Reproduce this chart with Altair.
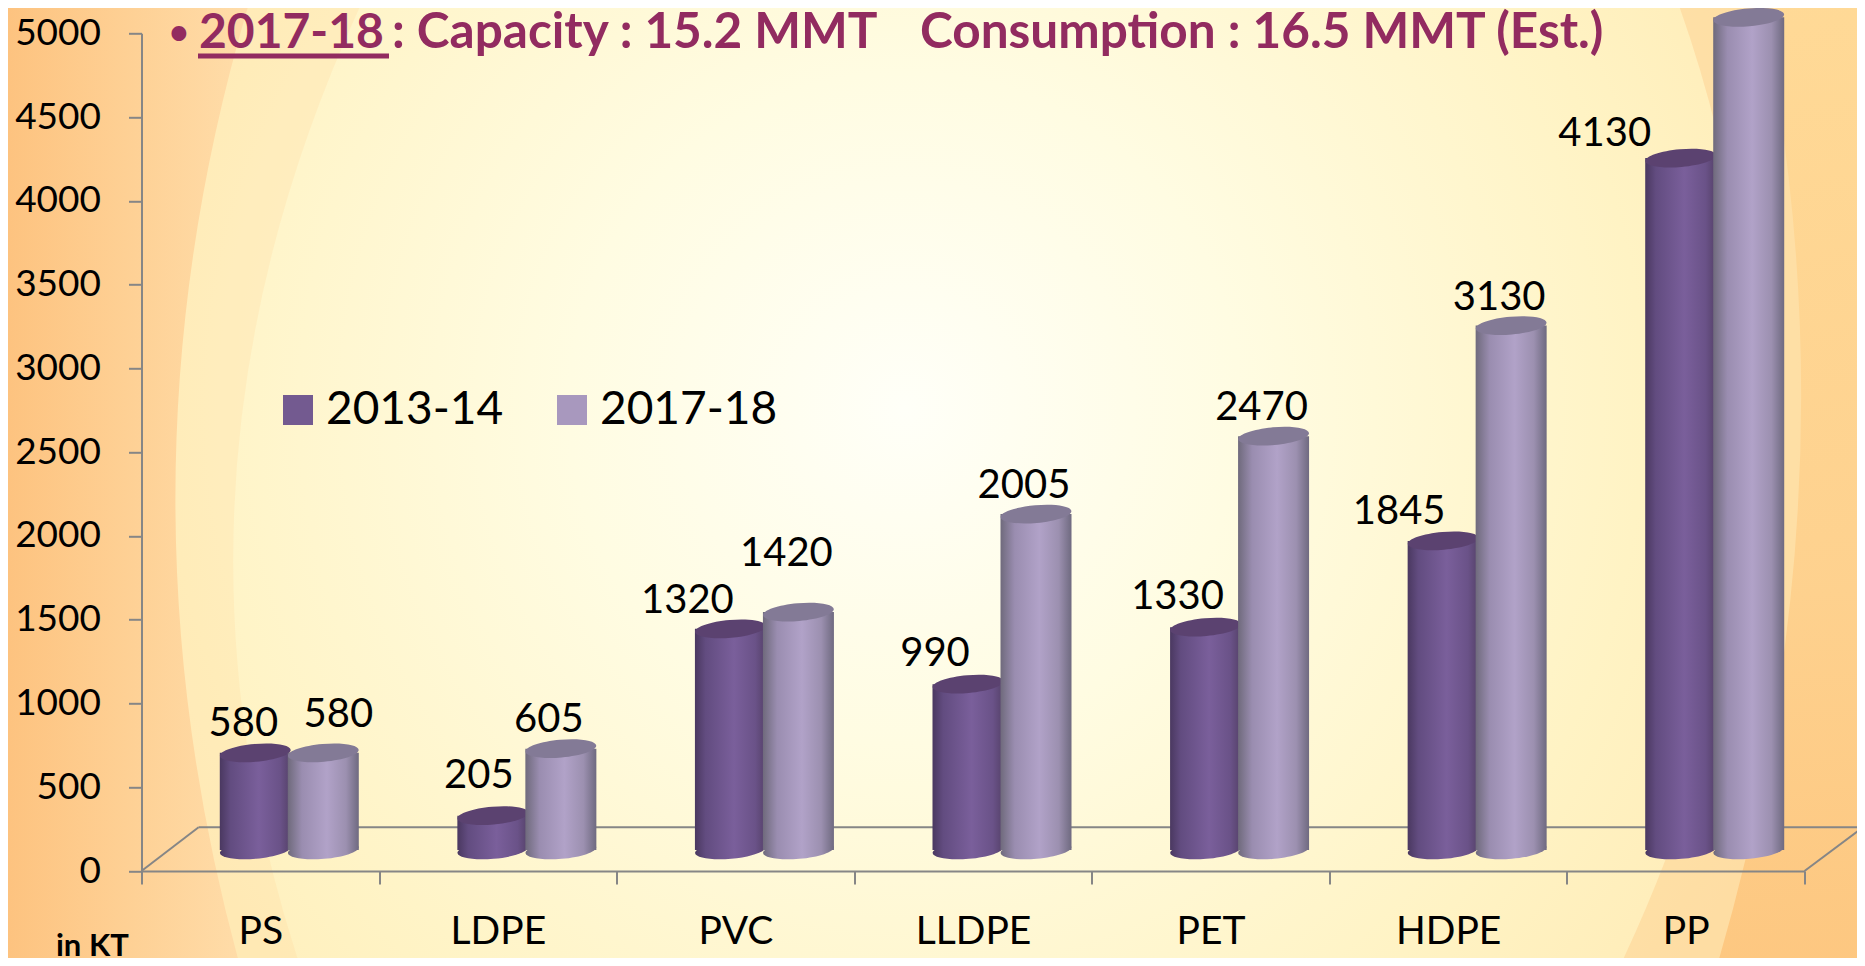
import altair as alt
import pandas as pd

categories = ["PS", "LDPE", "PVC", "LLDPE", "PET", "HDPE", "PP"]
series_a = "2013-14"
series_b = "2017-18"
values_a = [580, 205, 1320, 990, 1330, 1845, 4130]
values_b = [580, 605, 1420, 2005, 2470, 3130, 4970]

# label nudges, px from each cylinder's centre
dx_a = [-12, -14, -43, -33, -28, -44, -76]
dy_a = [-29, -40, -28, -30, -30, -29, -24]
dx_b = [15, -12, -12, -12, -12, -12, 0]
dy_b = [-38, -29, -58, -28, -28, -28, -30]

FONT = "Lato"
OX, OY = 141.5, 33.3
W, H = 1663, 837.7
BASE = -21
OFF_A, OFF_B = -5, 63
CYL = 71
AXIS = "#868686"
PURPLE = "#922B60"

df = pd.DataFrame(
    [{"cat": c, "series": series_a, "value": v} for c, v in zip(categories, values_a)]
    + [{"cat": c, "series": series_b, "value": v} for c, v in zip(categories, values_b)]
)
one = pd.DataFrame({"k": [0]})


def grad(stops, x2=1, y2=0):
    return {"gradient": "linear", "x1": 0, "x2": x2, "y1": 0, "y2": y2,
            "stops": [{"offset": o, "color": c} for o, c in stops]}


GRAD_A = grad([(0, "#4A3860"), (0.15, "#624C80"), (0.55, "#7A5F9B"), (0.85, "#6A5288"), (1, "#554169")])
GRAD_B = grad([(0, "#6F6A7C"), (0.2, "#9A8DB0"), (0.55, "#B1A2C8"), (0.82, "#9C90B0"), (1, "#6F6A80")])
CAP_A, CAP_B = "#5B4270", "#837A96"
ELLIPSE = "M-1,0A1,0.25,0,1,1,1,0A1,0.25,0,1,1,-1,0Z"

x_enc = alt.X("cat:N", sort=categories, title=None,
              scale=alt.Scale(domain=categories, paddingInner=0, paddingOuter=0),
              axis=alt.Axis(labelAngle=0, labelFontSize=39, labelFont=FONT, labelColor="#000000",
                            labelPadding=28, tickBand="extent", tickSize=13, tickWidth=2, tickColor=AXIS,
                            domainColor=AXIS, domainWidth=2, grid=False, zindex=1))
y_enc = alt.Y("value:Q", title=None,
              scale=alt.Scale(domain=[0, 5000], nice=False),
              axis=alt.Axis(values=list(range(0, 5001, 500)), format="d", labelFontSize=37, labelFont=FONT,
                            labelColor="#000000", labelPadding=28, tickSize=13, tickWidth=2, tickColor=AXIS,
                            domainColor=AXIS, domainWidth=2, grid=False, zindex=1))

# ---- backdrop (full-image pixel coordinates mapped through the plot origin)
bg = alt.Chart(one).mark_rect(color={
    "gradient": "radial", "x1": 0.485, "y1": 0.46, "x2": 0.485, "y2": 0.46, "r1": 0, "r2": 0.72,
    "stops": [{"offset": 0, "color": "#FFFFF8"}, {"offset": 0.25, "color": "#FFFCE2"},
              {"offset": 0.55, "color": "#FFF3C4"}, {"offset": 0.8, "color": "#FFE8B0"},
              {"offset": 1, "color": "#FED898"}]
}).encode(x=alt.value(-OX), x2=alt.value(1865 - OX), y=alt.value(-OY), y2=alt.value(966 - OY))


def swoosh(path, color, opacity):
    return alt.Chart(one).mark_point(shape=path, size=4, filled=True, color=color, opacity=opacity,
                                     strokeWidth=0).encode(x=alt.value(-OX), y=alt.value(-OY))


swooshes = [
    swoosh("M363,0Q140,480,300,966L0,966L0,0Z", "#FDCD8C", 0.18),
    swoosh("M250,0Q106,480,240,966L0,966L0,0Z",
           grad([(0, "#FDC27E"), (0.5, "#FED094"), (1, "#FFDDAA")]), 1),
    swoosh("M1677,0Q1850,480,1620,966L1865,966L1865,0Z", "#FDCD8C", 0.45),
    swoosh("M1760,0Q1860,480,1717,966L1865,966L1865,0Z",
           grad([(0, "#FFD995"), (0.6, "#FED08C"), (1, "#FDC57D")], x2=0, y2=1), 0.9),
]

# ---- 3-D floor
y_front = H
y_back = 827.3 - OY
x_left = 198.6 - OX
x_right = 1863 - OX


def floor_line(x1, x2, y1, y2):
    return alt.Chart(one).mark_rule(color=AXIS, strokeWidth=2).encode(
        x=alt.value(x1), x2=alt.value(x2), y=alt.value(y1), y2=alt.value(y2))


floor = [floor_line(x_left, x_right, y_back, y_back),
         floor_line(0, x_left, y_front, y_back),
         floor_line(W, x_right, y_front, y_back)]


# ---- cylinders
def cylinder(series, offset, fill, cap):
    src = alt.Chart(df).transform_filter(alt.datum.series == series)
    bottom = src.mark_point(shape=ELLIPSE, size=CYL ** 2, filled=True, color=fill, opacity=1, strokeWidth=0,
                            angle=355, xOffset=offset, yOffset=BASE).encode(x=x_enc, y=alt.datum(0))
    body = src.mark_bar(size=CYL, color=fill, xOffset=offset, yOffset=BASE, y2Offset=BASE).encode(
        x=x_enc, y=y_enc, y2=alt.datum(0))
    top = src.mark_point(shape=ELLIPSE, size=CYL ** 2, filled=True, color=cap, opacity=1, strokeWidth=0,
                         angle=355, xOffset=offset, yOffset=BASE).encode(x=x_enc, y=y_enc)
    return [bottom, body, top]


# ---- data labels
def labels(series, offset, dxs, dys):
    out = []
    for c, dx, dy in zip(categories, dxs, dys):
        out.append(
            alt.Chart(df).transform_filter((alt.datum.series == series) & (alt.datum.cat == c))
            .mark_text(font=FONT, fontSize=40, color="#000000", baseline="middle", align="center",
                       dx=offset + dx, dy=BASE + dy)
            .encode(x=x_enc, y=y_enc, text="value:Q"))
    return out


# ---- legend comes from an invisible layer with a real colour scale
legend_layer = alt.Chart(df).mark_square(opacity=0, size=1).encode(
    x=x_enc, y=y_enc,
    color=alt.Color("series:N", scale=alt.Scale(domain=[series_a, series_b], range=["#735A90", "#A898BE"]),
                    legend=alt.Legend(orient="none", legendX=275 - OX, legendY=387 - OY, direction="horizontal",
                                      title=None, symbolType="square", symbolSize=900, symbolOpacity=1,
                                      symbolStrokeWidth=0, labelFontSize=46, labelFont=FONT, labelLimit=400,
                                      padding=0, labelColor="#000000", labelOffset=5, columnPadding=45)))


# ---- texts
def text(s, x, y, size, bold=True, color=PURPLE, baseline="alphabetic"):
    return alt.Chart(one).mark_text(text=s, font=FONT, fontSize=size, fontWeight="bold" if bold else "normal",
                                    color=color, align="left", baseline=baseline).encode(
        x=alt.value(x - OX), y=alt.value(y - OY))


heading = [
    text("\u2022", 169, 44, 34),
    text("2017-18", 199, 48, 48),
    text(": Capacity : 15.2 MMT", 392, 48, 49.5),
    text("Consumption : 16.5 MMT (Est.)", 920, 48, 49.5),
    text("in KT", 56, 956, 31, color="#000000"),
]
underline = alt.Chart(one).mark_rule(color=PURPLE, strokeWidth=5).encode(
    x=alt.value(198 - OX), x2=alt.value(389 - OX), y=alt.value(56 - OY))

layers = ([bg] + swooshes + floor + [legend_layer]
          + cylinder(series_a, OFF_A, GRAD_A, CAP_A) + cylinder(series_b, OFF_B, GRAD_B, CAP_B)
          + labels(series_a, OFF_A, dx_a, dy_a) + labels(series_b, OFF_B, dx_b, dy_b)
          + heading + [underline])

chart = alt.layer(*layers).properties(
    width=W, height=H,
    autosize=alt.AutoSizeParams(type="none"),
    padding={"left": OX - 8, "top": OY - 8, "right": 1849 - (OX - 8) - W, "bottom": 950 - (OY - 8) - H},
    background="#FDD28F",
).configure_view(stroke=None)

chart.save("out.html", embed_options={"renderer": "svg", "actions": False})
